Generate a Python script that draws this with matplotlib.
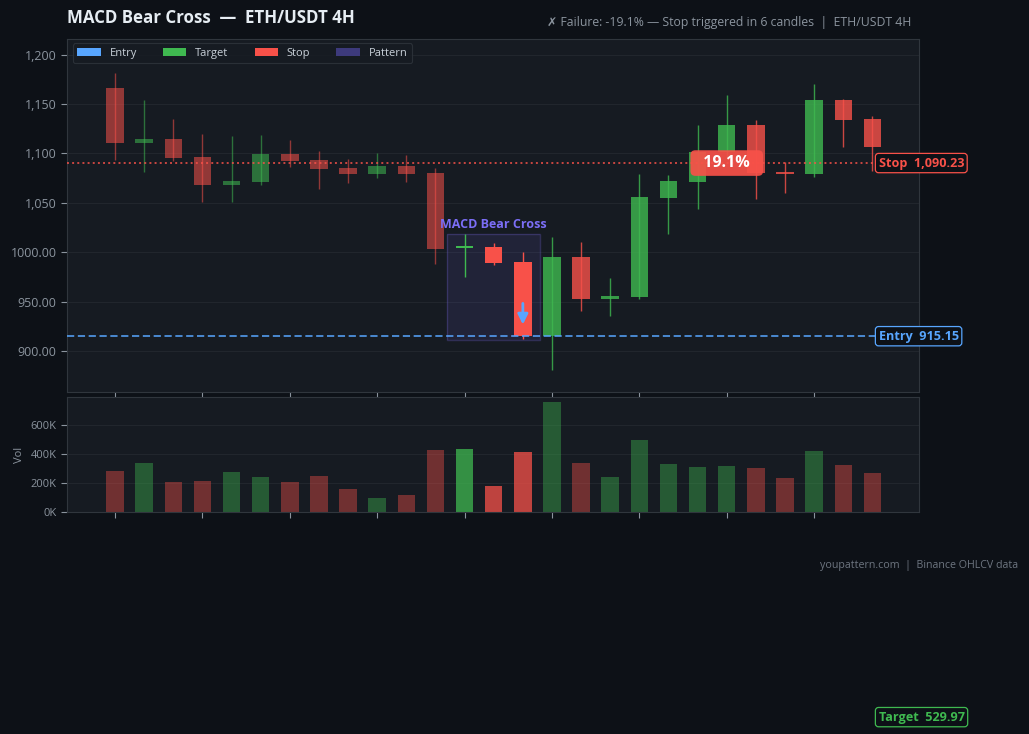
import matplotlib
matplotlib.use("Agg")
import matplotlib.pyplot as plt
from matplotlib.patches import Patch, Rectangle
from matplotlib.ticker import FuncFormatter, FixedLocator
import matplotlib.transforms as mtransforms

plt.rcParams['font.family'] = ['Open Sans', 'DejaVu Sans']

# ---------------- data ----------------
opens = [1166.1, 1110.7, 1114.5, 1096.3, 1068.2, 1071.3, 1099.3, 1093.2, 1085.1, 1079.4,
         1087.1, 1080.1, 1004.0, 1005.2, 989.9, 915.2, 995.0, 952.8, 954.9, 1055.1,
         1071.3, 1101.6, 1128.6, 1080.0, 1079.0, 1153.9, 1134.7]
closes = [1110.7, 1114.5, 1095.5, 1068.2, 1072.0, 1099.3, 1092.5, 1084.4, 1079.4, 1087.1,
          1079.4, 1003.4, 1005.0, 989.3, 915.15, 995.0, 952.8, 955.5, 1055.8, 1072.0,
          1101.6, 1128.6, 1079.8, 1079.0, 1153.9, 1133.7, 1106.7]
highs = [1181.6, 1154.0, 1134.7, 1119.5, 1117.5, 1118.5, 1113.5, 1102.3, 1094.2, 1100.3,
         1098.3, 1085.4, 1018.3, 1009.5, 1000.1, 1015.3, 1010.2, 973.8, 1079.0, 1078.0,
         1128.6, 1159.0, 1133.7, 1091.5, 1170.1, 1155.0, 1137.8]
lows = [1093.2, 1081.4, 1092.5, 1051.0, 1051.0, 1068.2, 1086.4, 1064.2, 1070.3, 1075.3,
        1071.3, 988.6, 975.1, 987.3, 912.3, 880.7, 940.4, 935.6, 952.8, 1018.6,
        1043.6, 1096.0, 1053.4, 1060.1, 1076.3, 1106.7, 1082.4]
volumes = [285, 340, 209, 215, 278, 243, 209, 250, 161, 99,
           119, 430, 437, 181, 416, 754, 340, 243, 499, 333,
           312, 319, 305, 236, 423, 326, 271]  # thousands

entry_price = 915.15
stop_price = 1090.23
target_price = 529.97
pattern_start, pattern_end = 12, 14
pattern_name = "MACD Bear Cross"
pct_label = "19.1%"
title = "MACD Bear Cross  \u2014  ETH/USDT 4H"
subtitle = "\u2717 Failure: -19.1% \u2014 Stop triggered in 6 candles  |  ETH/USDT 4H"
footer = "youpattern.com  |  Binance OHLCV data"
price_ticks = [900, 950, 1000, 1050, 1100, 1150, 1200]
vol_ticks = [0, 200, 400, 600]

# ---------------- style ----------------
FIG_BG = '#0d1117'
AX_BG = '#161b22'
GRID = '#21262d'
SPINE = '#30363d'
TXT = '#8b949e'
RED = '#f85149'
GREEN = '#3fb950'
BLUE = '#58a6ff'
PURPLE = '#6e5fd0'

fig = plt.figure(figsize=(10.29, 7.34), dpi=100, facecolor=FIG_BG)
ax = fig.add_axes([0.0651, 0.4659, 0.8280, 0.4810])
axv = fig.add_axes([0.0651, 0.3020, 0.8280, 0.1571], sharex=ax)

for a in (ax, axv):
    a.set_facecolor(AX_BG)
    for s in a.spines.values():
        s.set_color(SPINE)
        s.set_linewidth(0.8)
    a.tick_params(colors=TXT, labelsize=9, length=4, width=0.8)
    a.grid(axis='y', color=GRID, linewidth=0.8)
    a.set_axisbelow(True)

n = len(opens)
xs = list(range(n))
w = 0.6
for i in xs:
    o, c, h, l = opens[i], closes[i], highs[i], lows[i]
    up = c >= o
    col = GREEN if up else RED
    if pattern_start <= i <= pattern_end:
        alpha = 1.0
    elif i < pattern_start:
        alpha = 0.55
    else:
        alpha = 0.8
    ax.vlines(i, l, h, color=col, alpha=alpha, linewidth=1.0, zorder=2)
    bottom = min(o, c)
    height = max(abs(c - o), 2.6)
    ax.bar(i, height, bottom=bottom, width=w, color=col, alpha=alpha, zorder=3, linewidth=0)
    valpha = 0.75 if pattern_start <= i <= pattern_end else 0.4
    axv.bar(i, volumes[i], width=w, color=col, alpha=valpha, linewidth=0)

ax.set_xlim(-1.65, 27.6)
ax.set_ylim(858.7, 1215.7)
ax.yaxis.set_major_locator(FixedLocator(price_ticks))
ax.yaxis.set_major_formatter(FuncFormatter(lambda v, p: f"{v:,.0f}" if v > 1000 else f"{v:.2f}"))
ax.xaxis.set_major_locator(FixedLocator(list(range(0, n, 3))))
ax.tick_params(axis='x', labelbottom=False)

axv.set_ylim(0, 791)
axv.yaxis.set_major_locator(FixedLocator(vol_ticks))
axv.yaxis.set_major_formatter(FuncFormatter(lambda v, p: f"{v:.0f}K"))
axv.tick_params(axis='y', labelsize=8)
axv.tick_params(axis='x', labelbottom=False)
axv.set_ylabel("Vol", color=TXT, fontsize=8)

# pattern rectangle
p_lo = min(lows[pattern_start:pattern_end + 1]) - 1.2
p_hi = max(highs[pattern_start:pattern_end + 1])
rect = Rectangle((pattern_start - 0.6, p_lo), (pattern_end - pattern_start) + 1.2, p_hi - p_lo,
                 facecolor=PURPLE, alpha=0.13, edgecolor='none', zorder=1)
ax.add_patch(rect)
rect2 = Rectangle((pattern_start - 0.6, p_lo), (pattern_end - pattern_start) + 1.2, p_hi - p_lo,
                  facecolor='none', edgecolor=PURPLE, alpha=0.3, linewidth=1.0, zorder=1)
ax.add_patch(rect2)
ax.text((pattern_start + pattern_end) / 2, p_hi + 3, pattern_name, color='#7b6ef6',
        fontsize=9, fontweight='bold', ha='center', va='bottom', zorder=5)

# entry / stop lines
ax.axhline(entry_price, color=BLUE, linestyle=(0, (4, 2)), linewidth=1.3, alpha=0.85, zorder=4)
ax.axhline(stop_price, color=RED, linestyle=':', linewidth=1.4, alpha=0.8, zorder=4)

# arrow on pattern end candle
ax.annotate('', xy=(pattern_end, entry_price + 9), xytext=(pattern_end, entry_price + 36),
            arrowprops=dict(arrowstyle='-|>,head_width=0.3,head_length=0.6', color=BLUE,
                            lw=2.0), zorder=6)

# right labels
trans = mtransforms.blended_transform_factory(ax.transAxes, ax.transData)
lx = 0.9525
for lbl, price, col in ((f"Stop  {stop_price:,.2f}", stop_price, RED),
                        (f"Entry  {entry_price:,.2f}", entry_price, BLUE),
                        (f"Target  {target_price:,.2f}", target_price, GREEN)):
    ax.text(lx, price, lbl, transform=trans, color=col, fontsize=9.1,
            fontweight='bold', ha='left', va='center', clip_on=False, zorder=7,
            bbox=dict(boxstyle='round,pad=0.25', facecolor=FIG_BG, edgecolor=col, linewidth=0.9))

# percent badge
ax.text(21, stop_price, f"  {pct_label}  ", color='white', fontsize=11.5, fontweight='bold',
        ha='center', va='center', zorder=8,
        bbox=dict(boxstyle='round,pad=0.3', facecolor=RED, alpha=0.92, edgecolor='none'))

# legend
handles = [Patch(facecolor=BLUE, label='Entry'), Patch(facecolor=GREEN, label='Target'),
           Patch(facecolor=RED, label='Stop'), Patch(facecolor='#3d3a7c', label='Pattern')]
leg = ax.legend(handles=handles, loc='upper left', ncol=4, fontsize=8, frameon=True,
                facecolor=AX_BG, edgecolor=SPINE, labelcolor='#c9d1d9', handlelength=2.1,
                handleheight=0.7, handletextpad=0.8, columnspacing=2.35,
                bbox_to_anchor=(0.003, 0.997), borderaxespad=0.3)
leg.get_frame().set_linewidth(0.8)

# titles
fig.text(0.0651, 0.976, title, color='#e6edf3', fontsize=12.2, fontweight='bold', ha='left', va='center')
fig.text(0.8855, 0.969, subtitle, color=TXT, fontsize=8.8, ha='right', va='center')
fig.text(0.989, 0.229, footer, color='#6e7681', fontsize=7.7, ha='right', va='center')

fig.savefig('out.png', dpi=100, facecolor=FIG_BG)
